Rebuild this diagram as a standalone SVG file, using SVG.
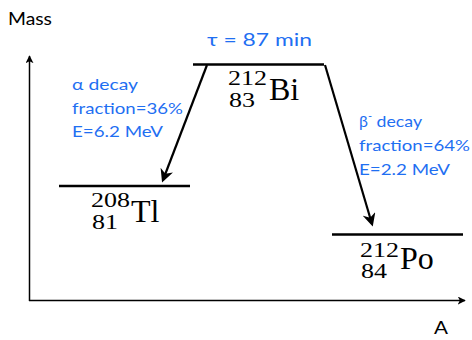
<svg xmlns="http://www.w3.org/2000/svg" width="472" height="340" viewBox="0 0 472 340">
<style>
.lbl{font-family:"Lato","Open Sans",sans-serif;fill:#000;font-size:18px}
.blue{font-family:"Lato","Open Sans",sans-serif;fill:#1f6ff2;font-size:16px}
.tau{font-size:18px}
.nuc{font-family:"Liberation Serif","DejaVu Serif",serif;fill:#000}
.sup{font-size:20px}
.el{font-size:32px}
.lvl{stroke:#000;stroke-width:2.5}
.ax{stroke:#000;stroke-width:1.5;fill:none}
.arr{stroke:#000;stroke-width:2.2;fill:none}
</style>
<defs>
<marker id="ah" viewBox="0 0 10 10" refX="9" refY="5" markerWidth="8" markerHeight="8" markerUnits="userSpaceOnUse" orient="auto">
<path d="M0,0 L10,5 L0,10 L2.5,5 z" fill="#000"/>
</marker>
<marker id="ah2" viewBox="0 0 10 10" refX="8" refY="5" markerWidth="6" markerHeight="6" orient="auto">
<path d="M0,0 L10,5 L0,10 L3,5 z" fill="#000"/>
</marker>
</defs>
<g id="axes">
<line class="ax" x1="29.5" y1="301" x2="29.5" y2="56" marker-end="url(#ah)"/>
<line class="ax" x1="29" y1="300.5" x2="465" y2="300.5" marker-end="url(#ah)"/>
<text class="lbl" x="8" y="25" textLength="44" lengthAdjust="spacingAndGlyphs">Mass</text>
<text class="lbl" x="434" y="334" textLength="14" lengthAdjust="spacingAndGlyphs">A</text>
</g>
<g id="Bi">
<line class="lvl" x1="193" y1="64.5" x2="324" y2="64.5"/>
<text class="blue tau" x="207" y="46" textLength="105" lengthAdjust="spacingAndGlyphs">τ = 87 min</text>
<text class="nuc sup" x="228" y="85" textLength="39" lengthAdjust="spacingAndGlyphs">212</text>
<text class="nuc sup" x="229" y="107" textLength="26" lengthAdjust="spacingAndGlyphs">83</text>
<text class="nuc el" x="269" y="100">Bi</text>
</g>
<g id="Tl">
<line class="lvl" x1="59" y1="186" x2="190" y2="186"/>
<text class="nuc sup" x="91" y="207" textLength="39" lengthAdjust="spacingAndGlyphs">208</text>
<text class="nuc sup" x="92" y="229" textLength="26" lengthAdjust="spacingAndGlyphs">81</text>
<text class="nuc el" x="131" y="222">Tl</text>
</g>
<g id="Po">
<line class="lvl" x1="332" y1="234.5" x2="463" y2="234.5"/>
<text class="nuc sup" x="360" y="257" textLength="39" lengthAdjust="spacingAndGlyphs">212</text>
<text class="nuc sup" x="361" y="278" textLength="26" lengthAdjust="spacingAndGlyphs">84</text>
<text class="nuc el" x="400" y="269">Po</text>
</g>
<g id="connectors">
<line class="arr" x1="207" y1="65" x2="163" y2="180" marker-end="url(#ah2)"/>
<line class="arr" x1="325" y1="65" x2="372" y2="224" marker-end="url(#ah2)"/>
</g>
<g id="labels">
<text class="blue" x="72" y="90" textLength="66" lengthAdjust="spacingAndGlyphs">α decay</text>
<text class="blue" x="72" y="114" textLength="111" lengthAdjust="spacingAndGlyphs">fraction=36%</text>
<text class="blue" x="72" y="137" textLength="91" lengthAdjust="spacingAndGlyphs">E=6.2 MeV</text>
<text class="blue" x="359" y="127">β<tspan font-size="11" dy="-7">-</tspan><tspan dy="7" textLength="50" lengthAdjust="spacingAndGlyphs"> decay</tspan></text>
<text class="blue" x="359" y="151" textLength="111" lengthAdjust="spacingAndGlyphs">fraction=64%</text>
<text class="blue" x="359" y="175" textLength="91" lengthAdjust="spacingAndGlyphs">E=2.2 MeV</text>
</g>
</svg>
